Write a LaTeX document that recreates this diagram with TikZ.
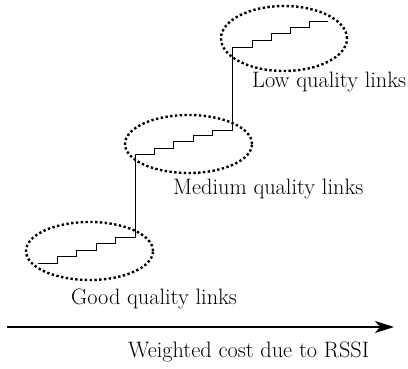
\documentclass[tikz,border=0pt]{standalone}
\usetikzlibrary{arrows.meta,shapes.geometric}
\begin{document}
\begin{tikzpicture}[x=1pt,y=-1pt,
  zone/.style={draw,ellipse,line width=2.4pt,dash pattern=on 2.4pt off 2.4pt,minimum width=#1,minimum height=58pt,inner sep=0pt},
  stairs/.style={line width=1pt},
  lbl/.style={inner sep=0pt,anchor=base west,font=\fontsize{22.3}{26}\selectfont}]
\useasboundingbox (0,0) rectangle (408,369);
% zones
\node[zone=127pt,minimum height=58pt] (good) at (89.5,251) {};
\node[zone=127pt,minimum height=58pt] (med) at (188.5,144) {};
\node[zone=126pt,minimum height=65pt] (low) at (284,38.5) {};
% staircase
\draw[stairs] (38,264) -- (57,264) -- (57,257) -- (76,257) -- (76,251) -- (96,251) -- (96,244)
  -- (115,244) -- (115,238) -- (135,238)
  -- (135,155) -- (154,155) -- (154,149) -- (173,149) -- (173,142) -- (193,142) -- (193,136)
  -- (212,136) -- (212,131) -- (232,131)
  -- (232,48) -- (252,48) -- (252,41) -- (271,41) -- (271,34) -- (290,34) -- (290,28)
  -- (309,28) -- (309,22) -- (328,22);
% labels
\node[lbl] (lowl) at (252,88) {Low quality links};
\node[lbl] (medl) at (173,195) {Medium quality links};
\node[lbl] (goodl) at (71,305) {Good quality links};
% axis
\coordinate (a0) at (7,327);
\coordinate (a1) at (394,327);
\draw[line width=1.2pt,-{Stealth[length=19pt,width=12pt,inset=5pt]}] (a0) -- (a1);
\node[lbl] (axl) at (128,358) {Weighted cost due to RSSI};
\end{tikzpicture}
\end{document}
